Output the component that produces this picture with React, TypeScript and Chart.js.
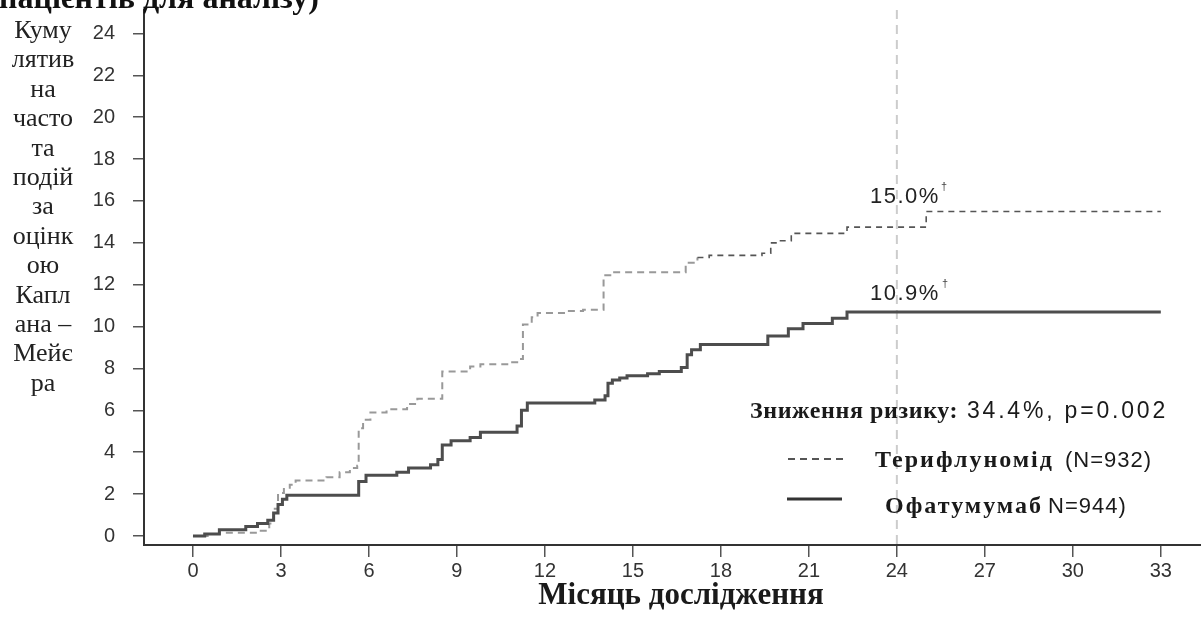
import React, { useEffect, useRef } from "react";
import { Chart, registerables } from "chart.js";

Chart.register(...registerables);

// ---- data ----
const xTickValues = [0, 3, 6, 9, 12, 15, 18, 21, 24, 27, 30, 33];
const yTickValues = [0, 2, 4, 6, 8, 10, 12, 14, 16, 18, 20, 22, 24];

const ofaMonths = [0, 0.4, 0.9, 1.8, 2.2, 2.55, 2.75, 2.9, 3.05, 3.2, 5.65, 5.9, 6.95, 7.35, 8.1, 8.35, 8.5, 8.8, 9.45, 9.8, 11.05, 11.2, 11.4, 13.7, 14.05, 14.15, 14.3, 14.55, 14.8, 15.5, 15.9, 16.65, 16.85, 17.0, 17.3, 19.6, 20.3, 20.8, 21.8, 22.3, 33.0];
const ofaValues = [0, 0.1, 0.3, 0.45, 0.6, 0.75, 1.1, 1.5, 1.75, 1.95, 2.6, 2.9, 3.05, 3.25, 3.4, 3.65, 4.35, 4.55, 4.7, 4.95, 5.25, 6.0, 6.35, 6.5, 6.7, 7.3, 7.45, 7.55, 7.65, 7.75, 7.85, 8.05, 8.65, 8.9, 9.15, 9.55, 9.9, 10.15, 10.4, 10.7, 10.7];

const teriMonths = [0, 0.5, 0.9, 2.2, 2.6, 2.75, 2.9, 3.1, 3.3, 3.5, 4.55, 5.0, 5.35, 5.6, 5.65, 5.8, 6.05, 6.6, 7.3, 7.65, 8.5, 9.45, 9.8, 10.8, 11.15, 11.25, 11.55, 11.75, 12.75, 13.3, 14.0, 14.3, 16.8, 17.2, 17.6, 19.4, 19.7, 20.0, 20.4, 22.3, 25.0, 33.0];
const teriValues = [0, 0.1, 0.15, 0.25, 0.6, 1.3, 2.05, 2.3, 2.45, 2.65, 2.8, 3.05, 3.25, 3.35, 5.15, 5.55, 5.9, 6.05, 6.3, 6.55, 7.85, 8.1, 8.2, 8.3, 8.45, 10.1, 10.45, 10.65, 10.75, 10.8, 12.45, 12.6, 13.05, 13.3, 13.4, 13.5, 14.0, 14.1, 14.45, 14.75, 15.5, 15.5];

const refMonth = 24;
const darkDashFrom = 17;

// ---- text ----
const topTitle = "пацієнтів для аналізу)";
const yTitleLines = ["Куму", "лятив", "на", "часто", "та", "подій", "за", "оцінк", "ою", "Капл", "ана –", "Мейє", "ра"];
const xTitle = "Місяць дослідження";
const riskLabel = "Зниження ризику:";
const riskValue = "34.4%, p=0.002";
const teriName = "Терифлуномід";
const teriN = "(N=932)";
const ofaName = "Офатумумаб";
const ofaN = "N=944)";
const teriEndLabel = "15.0%";
const ofaEndLabel = "10.9%";
const dagger = "†";

const SANS = "'Liberation Sans', Arial, sans-serif";
const SERIF = "'Liberation Serif', 'Times New Roman', serif";

const toPoints = (xs: number[], ys: number[]) => xs.map((x, i) => ({ x, y: ys[i] }));

const overlayPlugin = {
  id: "overlay",
  beforeDatasetsDraw(chart: any) {
    const { ctx, chartArea, scales } = chart;
    const x = scales.x.getPixelForValue(refMonth);
    ctx.save();
    ctx.strokeStyle = "#cccccc";
    ctx.lineWidth = 2;
    ctx.setLineDash([9, 6]);
    ctx.beginPath();
    ctx.moveTo(x, chartArea.top);
    ctx.lineTo(x, chartArea.bottom);
    ctx.stroke();
    ctx.restore();
  },
  afterDraw(chart: any) {
    const { ctx } = chart;
    const text = (s: string, x: number, y: number, font: string, opts: any = {}) => {
      ctx.save();
      ctx.font = font;
      ctx.fillStyle = opts.color || "#1e1e1e";
      ctx.textAlign = opts.align || "left";
      ctx.textBaseline = "alphabetic";
      if (opts.spacing) (ctx as any).letterSpacing = opts.spacing + "px";
      ctx.fillText(s, x, y);
      ctx.restore();
    };
    // cut-off title at top
    text(topTitle, -1, 8, `bold 32px ${SERIF}`, { color: "#111" });
    // y-axis title
    yTitleLines.forEach((line, i) => {
      text(line, 43, 38 + i * 29.4, `26px ${SERIF}`, { align: "center", color: "#222" });
    });
    // x-axis title
    text(xTitle, 681, 604, `bold 31px ${SERIF}`, { align: "center", color: "#1a1a1a" });
    // end labels
    text(teriEndLabel, 870, 203, `22px ${SANS}`, { spacing: 1.5, color: "#222" });
    text(dagger, 941, 190, `11px ${SANS}`, { color: "#444" });
    text(ofaEndLabel, 870, 300, `22px ${SANS}`, { spacing: 1.5, color: "#222" });
    text(dagger, 942, 287, `11px ${SANS}`, { color: "#444" });
    // risk reduction
    text(riskLabel, 750, 418, `bold 24px ${SERIF}`, { spacing: 0.6, color: "#1a1a1a" });
    text(riskValue, 967, 418, `23px ${SANS}`, { spacing: 2.8, color: "#1a1a1a" });
    // legend
    ctx.save();
    ctx.strokeStyle = "#555";
    ctx.lineWidth = 2;
    ctx.setLineDash([7, 5]);
    ctx.beginPath();
    ctx.moveTo(788, 459);
    ctx.lineTo(843, 459);
    ctx.stroke();
    ctx.setLineDash([]);
    ctx.strokeStyle = "#333";
    ctx.lineWidth = 3;
    ctx.beginPath();
    ctx.moveTo(787, 499);
    ctx.lineTo(842, 499);
    ctx.stroke();
    ctx.restore();
    text(teriName, 875, 467, `bold 24px ${SERIF}`, { spacing: 2, color: "#1a1a1a" });
    text(teriN, 1065, 467, `22px ${SANS}`, { spacing: 1, color: "#1a1a1a" });
    text(ofaName, 885, 513, `bold 24px ${SERIF}`, { spacing: 2, color: "#1a1a1a" });
    text(ofaN, 1048, 513, `22px ${SANS}`, { spacing: 1, color: "#1a1a1a" });
  },
};

export default function App() {
  const canvasRef = useRef<HTMLCanvasElement | null>(null);

  useEffect(() => {
    if (!canvasRef.current) return;
    const chart = new Chart(canvasRef.current, {
      type: "line",
      data: {
        datasets: [
          {
            label: ofaName,
            data: toPoints(ofaMonths, ofaValues),
            borderColor: "#4d4d4d",
            borderWidth: 3,
            pointRadius: 0,
            stepped: true,
            fill: false,
          },
          {
            label: teriName,
            data: toPoints(teriMonths, teriValues),
            borderColor: "#999999",
            borderWidth: 2,
            borderDash: [7, 5],
            pointRadius: 0,
            stepped: true,
            fill: false,
            segment: {
              borderColor: (c: any) => (c.p0.parsed.x >= darkDashFrom ? "#555555" : "#999999"),
              borderWidth: (c: any) => (c.p0.parsed.x >= darkDashFrom ? 1.6 : 2),
              borderDash: (c: any) => (c.p0.parsed.x >= darkDashFrom ? [6, 5] : [7, 5]),
            },
          },
        ],
      },
      options: {
        animation: false,
        responsive: false,
        devicePixelRatio: 1,
        layout: { padding: { left: 0, right: 0, top: 10, bottom: 0 } },
        plugins: { legend: { display: false }, tooltip: { enabled: false } },
        scales: {
          x: {
            type: "linear",
            min: -1.67,
            max: 34.37,
            afterBuildTicks: (scale: any) => {
              scale.ticks = xTickValues.map((v) => ({ value: v }));
            },
            afterFit: (scale: any) => {
              scale.height = 77;
              scale.paddingLeft = 0;
              scale.paddingRight = 0;
            },
            grid: { drawOnChartArea: false, drawTicks: true, tickLength: 12, color: "#555", lineWidth: 1.5 },
            border: { display: true, color: "#333", width: 2 },
            ticks: {
              font: { family: SANS, size: 20 },
              color: "#333",
              padding: 2,
              maxRotation: 0,
              autoSkip: false,
              callback: (v: any) => String(v),
            },
          },
          y: {
            type: "linear",
            min: -0.43,
            max: 25.12,
            afterBuildTicks: (scale: any) => {
              scale.ticks = yTickValues.map((v) => ({ value: v }));
            },
            afterFit: (scale: any) => {
              scale.width = 144;
              scale.paddingTop = 0;
              scale.paddingBottom = 0;
            },
            grid: { drawOnChartArea: false, drawTicks: true, tickLength: 11, color: "#555", lineWidth: 1.5 },
            border: { display: true, color: "#333", width: 2 },
            ticks: {
              font: { family: SANS, size: 20 },
              color: "#333",
              padding: 18,
              autoSkip: false,
              callback: (v: any) => String(v),
            },
          },
        },
      },
      plugins: [overlayPlugin],
    });
    return () => chart.destroy();
  }, []);

  return (
    <div style={{ position: "fixed", left: 0, top: 0, width: 1201, height: 622, background: "#fff" }}>
      <canvas ref={canvasRef} width={1201} height={622} style={{ width: 1201, height: 622, display: "block" }} />
    </div>
  );
}
